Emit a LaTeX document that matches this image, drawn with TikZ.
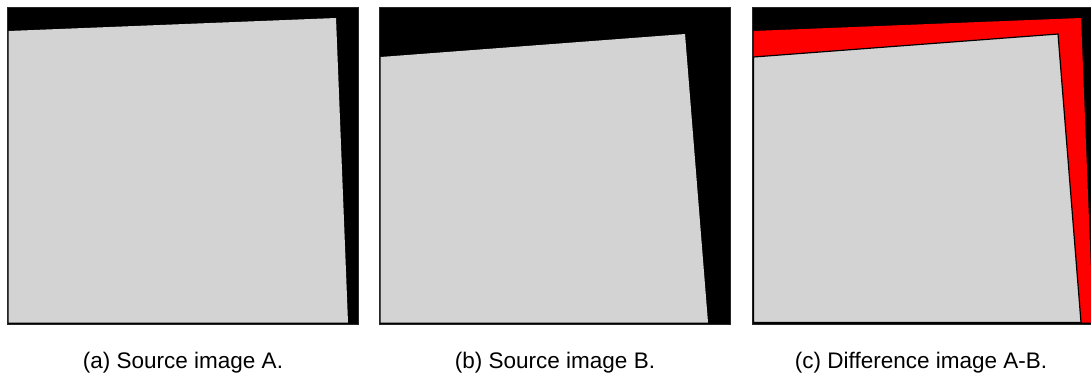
\documentclass[tikz,border=0pt]{standalone}
\usepackage{fontspec}
\setmainfont{Liberation Sans}
\usepackage{tikz}
\usetikzlibrary{calc}
\definecolor{sheet}{HTML}{D3D3D3}
\tikzset{frame/.style={fill=black,draw=black!85,line width=1pt},
	caption/.style={font=\fontsize{22.5}{24}\selectfont,anchor=base}}

\begin{document}
\begin{tikzpicture}[x=1pt,y=-1pt]
				\clip (0,0) rectangle (1091,376);
				\useasboundingbox (0,0) rectangle (1091,376);
				% (a) source A
				\draw[frame] (7,7) rectangle (358,324);
				\fill[sheet] (8.5,31) -- (336,18) -- (348,322.5) -- (8.5,322.5) -- cycle;
				% (b) source B
				\draw[frame] (379,7) rectangle (730,324);
				\fill[sheet] (380.5,57) -- (685,34) -- (708,322.5) -- (380.5,322.5) -- cycle;
				% (c) difference A-B
				\draw[frame] (752,7) rectangle (1103,324);
				\fill[red] (753.5,31) -- (1081,18) -- (1093,322.5) -- (753.5,322.5) -- cycle;
				\draw[fill=sheet,line width=1.2pt] (753.5,57) -- (1058,34) -- (1081,322.5) -- (753.5,322.5) -- cycle;
				\node[caption] (capA) at (183,368) {(a) Source image A.};
				\node[caption] (capB) at (555,368) {(b) Source image B.};
				\node[caption] (capC) at (921,368) {(c) Difference image A-B.};
			\end{tikzpicture}
\end{document}
